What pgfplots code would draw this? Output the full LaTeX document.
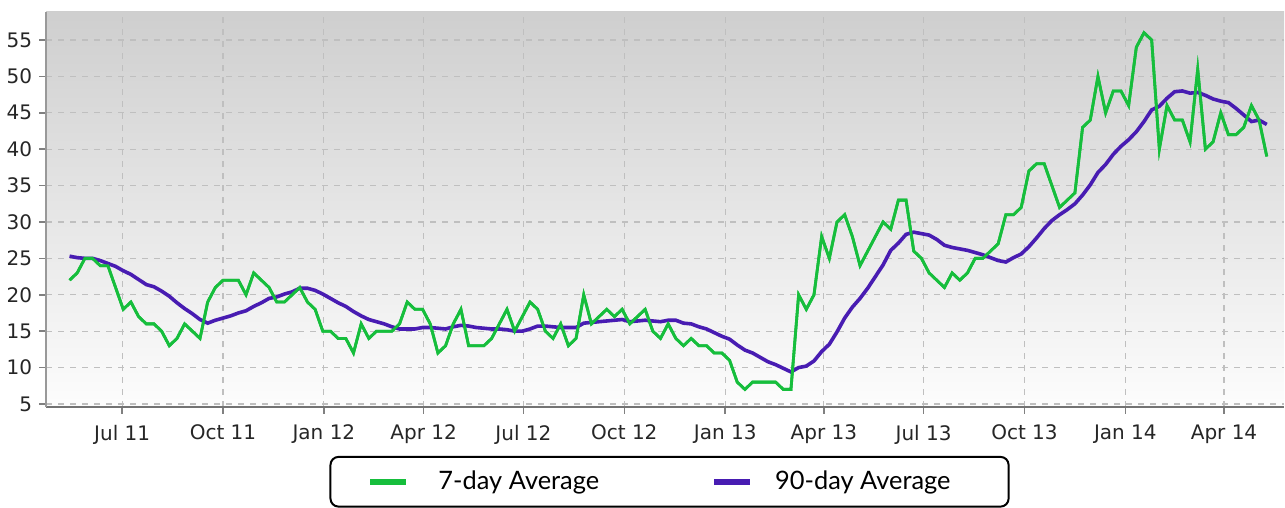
\documentclass[border=0pt]{standalone}
\usepackage{pgfplots}
\usepackage{pgfplotstable}
\pgfplotsset{compat=1.18}
\usepackage{fontspec}
\setmainfont{DejaVu Sans}
\newfontfamily\legfont{Lato}
\definecolor{gseven}{RGB}{22,190,60}
\definecolor{pninety}{RGB}{72,28,178}
\pgfplotstableread{
x g p
-48 22 25.3
-41 23 25.1
-34 25 25.0
-27 25 25.0
-20 24 24.7
-13 24 24.3
-6 21 23.9
1 18 23.3
8 19 22.8
15 17 22.1
22 16 21.4
29 16 21.1
36 15 20.5
43 13 19.8
50 14 18.9
57 16 18.1
64 15 17.4
71 14 16.6
78 19 16.1
85 21 16.5
92 22 16.8
99 22 17.1
106 22 17.5
113 20 17.8
120 23 18.4
127 22 18.9
134 21 19.5
141 19 19.7
148 19 20.1
155 20 20.4
162 21 20.9
169 19 20.9
176 18 20.6
183 15 20.1
190 15 19.5
197 14 18.9
204 14 18.4
211 12 17.7
218 16 17.1
225 14 16.6
232 15 16.3
239 15 16.0
246 15 15.6
253 16 15.3
260 19 15.3
267 18 15.3
274 18 15.5
281 16 15.5
288 12 15.4
295 13 15.3
302 16 15.6
309 18 15.8
316 13 15.7
323 13 15.5
330 13 15.4
337 14 15.3
344 16 15.3
351 18 15.2
358 15 15.0
365 17 15.0
372 19 15.3
379 18 15.7
386 15 15.7
393 14 15.6
400 16 15.5
407 13 15.5
414 14 15.5
421 20 16.1
428 16 16.2
435 17 16.3
442 18 16.4
449 17 16.5
456 18 16.6
463 16 16.3
470 17 16.4
477 18 16.5
484 15 16.4
491 14 16.3
498 16 16.5
505 14 16.5
512 13 16.1
519 14 16.0
526 13 15.6
533 13 15.3
540 12 14.8
547 12 14.3
554 11 13.9
561 8 13.1
568 7 12.4
575 8 12.0
582 8 11.4
589 8 10.8
596 8 10.4
603 7 9.9
610 7 9.4
617 20 10.0
624 18 10.2
631 20 10.9
638 28 12.2
645 25 13.2
652 30 14.9
659 31 16.8
666 28 18.3
673 24 19.5
680 26 20.9
687 28 22.5
694 30 24.1
701 29 26.1
708 33 27.1
715 33 28.3
722 26 28.6
729 25 28.4
736 23 28.2
743 22 27.6
750 21 26.8
757 23 26.5
764 22 26.3
771 23 26.1
778 25 25.8
785 25 25.5
792 26 25.1
799 27 24.7
806 31 24.5
813 31 25.1
820 32 25.6
827 37 26.6
834 38 27.8
841 38 29.1
848 35 30.2
855 32 31.0
862 33 31.7
869 34 32.5
876 43 33.7
883 44 35.1
890 50 36.8
897 45 37.9
904 48 39.3
911 48 40.4
918 46 41.3
925 54 42.4
932 56 43.8
939 55 45.4
946 40 45.9
953 46 47.0
960 44 47.9
967 44 48.0
974 41 47.7
981 51 47.8
988 40 47.4
995 41 46.9
1002 45 46.6
1009 42 46.4
1016 42 45.6
1023 43 44.7
1030 46 43.8
1037 44 44.0
1044 39 43.4
}\datatable
\begin{document}
\begin{tikzpicture}
\begin{axis}[
  width=619pt, height=197.5pt, scale only axis,
  xmin=-69.3, xmax=1059.7, ymin=4.59, ymax=58.85,
  axis x line*=bottom, axis y line*=left,
  x axis line style={-, draw=black!55, line width=1pt},
  y axis line style={-, draw=black!40, line width=1pt},
  axis background/.style={shade, top color=black!19, bottom color=black!1},
  tick align=outside,
  major tick length=3.5pt,
  tick style={draw=black!50, line width=0.8pt},
  xtick={0,92,184,275,366,458,550,640,731,823,915,1005},
  xticklabels={Jul 11,Oct 11,Jan 12,Apr 12,Jul 12,Oct 12,Jan 13,Apr 13,Jul 13,Oct 13,Jan 14,Apr 14},
  ytick={5,10,...,55},
  /pgf/number format/assume math mode=true,
  ticklabel style={font=\fontsize{10}{12}\selectfont, text=black!85},
  xticklabel style={yshift=-2pt},
  grid=major,
  major grid style={dashed, draw=black!25, line width=0.6pt},
  legend columns=2,
  legend style={at={(0.5036,-0.124)}, anchor=north, draw=black, line width=1pt,
    rounded corners=4pt, font=\legfont\fontsize{12.7}{15}\selectfont,
    inner xsep=18.5pt, inner ysep=5pt,
    /tikz/every even column/.append style={column sep=54pt}},
  legend image code/.code={\draw[#1, line width=3pt] (0pt,0pt) -- (18pt,0pt);},
]
\addplot[gseven, line width=1.4pt] table[x=x, y=g] {\datatable};
\addlegendentry{\hspace{12.5pt}7-day Average}
\addplot[pninety, line width=1.8pt] table[x=x, y=p] {\datatable};
\addlegendentry{\hspace{9pt}90-day Average\hspace*{8.5pt}\mbox{}}
\addplot[gseven, line width=1.4pt, forget plot] table[x=x, y=g] {\datatable};
\end{axis}
\path ([yshift=6pt]current axis.north);
\end{tikzpicture}
\end{document}
